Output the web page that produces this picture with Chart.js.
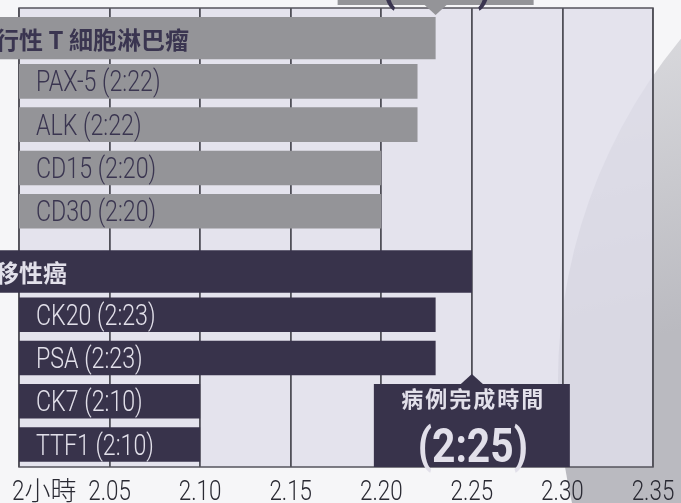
<!DOCTYPE html>
<html>
<head>
<meta charset="utf-8">
<script src="https://cdn.jsdelivr.net/npm/chart.js@4.4.1/dist/chart.umd.min.js"></script>
<style>
  html, body { margin: 0; padding: 0; background: #f6f6f8; }
  #wrap { width: 681px; height: 503px; }
</style>
</head>
<body>
<div id="wrap"><canvas id="timeChart"></canvas></div>
<script>
// data (times are 2.xx = 2h xx min)
const groupNames = ['行性 T 細胞淋巴瘤', '移性癌'];
const groupTimes = [2.23, 2.25];
const markerNames = [
  ['PAX-5', 'ALK', 'CD15', 'CD30'],
  ['CK20', 'PSA', 'CK7', 'TTF1']
];
const markerTimes = [
  [2.22, 2.22, 2.20, 2.20],
  [2.23, 2.23, 2.10, 2.10]
];
const tickLabels = ['2小時', '2.05', '2.10', '2.15', '2.20', '2.25', '2.30', '2.35'];
const calloutTitle = '病例完成時間';

// colours
const BAR_COLORS = ['#949498', '#38334b'];
const TEXT_COLORS = ['#3a3550', '#e2e0ea'];
const CJK = '"Noto Sans CJK TC", "Noto Sans CJK SC", sans-serif';

const fmtTime = t => t.toFixed(2).replace('.', ':');

// draws text, squeezing latin runs horizontally (condensed look), cjk runs kept normal
function drawRuns(ctx, text, x, y, align, latinFont, cjkFont, squeeze) {
  const re = /[\u2e80-\u9fff\uff00-\uffef]+|[^\u2e80-\u9fff\uff00-\uffef]+/g;
  const parts = (text.match(re) || []).map(r => {
    const isCjk = /[\u2e80-\u9fff]/.test(r);
    ctx.font = isCjk ? cjkFont : latinFont;
    const sx = isCjk ? 1 : squeeze;
    return { r, isCjk, sx, w: ctx.measureText(r).width * sx };
  });
  const total = parts.reduce((s, p) => s + p.w, 0);
  let cx = align === 'center' ? x - total / 2 : align === 'right' ? x - total : x;
  ctx.textAlign = 'left';
  parts.forEach(p => {
    ctx.font = p.isCjk ? cjkFont : latinFont;
    ctx.save();
    ctx.translate(cx, y);
    ctx.scale(p.sx, 1);
    ctx.fillText(p.r, 0, 0);
    ctx.restore();
    cx += p.w;
  });
}

const backgroundPlugin = {
  id: 'bg',
  beforeDraw(chart) {
    const { ctx, chartArea: a, width, height } = chart;
    ctx.save();
    ctx.fillStyle = '#f6f6f8';
    ctx.fillRect(0, 0, width, height);
    // big grey disc on the right
    const g = ctx.createLinearGradient(610, 40, 681, 330);
    g.addColorStop(0, '#d9d9dd');
    g.addColorStop(1, '#babac0');
    ctx.fillStyle = g;
    ctx.beginPath();
    ctx.arc(1096, 381, 538, 0, Math.PI * 2);
    ctx.fill();
    // plot area
    ctx.fillStyle = 'rgba(223,222,234,0.82)';
    ctx.fillRect(a.left, a.top, a.right - a.left, a.bottom - a.top);
    ctx.restore();
  },
  beforeDatasetsDraw(chart) {
    const { ctx, chartArea: a } = chart;
    ctx.save();
    ctx.strokeStyle = '#55545c';
    ctx.lineWidth = 1.5;
    ctx.strokeRect(a.left, a.top, a.right - a.left, a.bottom - a.top);
    ctx.restore();
  }
};

const labelPlugin = {
  id: 'labels',
  afterDatasetsDraw(chart) {
    const { ctx, chartArea: a } = chart;
    const xs = chart.scales.x;
    ctx.save();

    // header labels (cut at the left edge)
    const head = chart.getDatasetMeta(0).data;
    head.forEach((el, i) => {
      ctx.fillStyle = TEXT_COLORS[i];
      ctx.textBaseline = 'middle';
      const f = 'bold 24px ' + CJK;
      drawRuns(ctx, groupNames[i], a.left - 24, el.y + 1.5, 'left', f, f, 1);
    });

    // marker labels
    for (let k = 0; k < 4; k++) {
      chart.getDatasetMeta(k + 1).data.forEach((el, i) => {
        ctx.fillStyle = TEXT_COLORS[i];
        ctx.textBaseline = 'alphabetic';
        const txt = markerNames[i][k] + ' (' + fmtTime(markerTimes[i][k]) + ')';
        drawRuns(ctx, txt, a.left + 17, el.y + 10, 'left', '300 29px Roboto', '300 26px ' + CJK, 0.8);
      });
    }

    // completion time callouts
    const boxW = 196, boxH = 83, tip = 10;
    groupTimes.forEach((t, i) => {
      const x = xs.getPixelForValue(t);
      const above = i === 0;
      const bottom = above ? a.top - 3 : a.bottom;
      const top = bottom - boxH;
      ctx.fillStyle = BAR_COLORS[i];
      ctx.fillRect(x - boxW / 2, top, boxW, boxH);
      ctx.beginPath();
      if (above) {
        ctx.moveTo(x - 11, bottom); ctx.lineTo(x + 11, bottom); ctx.lineTo(x, bottom + tip);
      } else {
        ctx.moveTo(x - 11, top); ctx.lineTo(x + 11, top); ctx.lineTo(x, top - tip);
      }
      ctx.closePath();
      ctx.fill();

      ctx.fillStyle = TEXT_COLORS[i];
      ctx.textBaseline = 'middle';
      ctx.letterSpacing = '2px';
      const tf = 'bold 22px ' + CJK;
      drawRuns(ctx, calloutTitle, x + 1.5, top + 15, 'center', tf, tf, 1);
      ctx.letterSpacing = '0px';
      ctx.textBaseline = 'alphabetic';
      drawRuns(ctx, '(' + fmtTime(t) + ')', x + 1, bottom - 5.5, 'center', 'bold 48px Roboto', tf, 0.85);
    });
    ctx.restore();
  },
  afterDraw(chart) {
    const { ctx, chartArea: a } = chart;
    const xs = chart.scales.x;
    ctx.save();
    ctx.fillStyle = '#2a2a33';
    ctx.textBaseline = 'alphabetic';
    xs.ticks.forEach((tk, i) => {
      const x = xs.getPixelForTick(i);
      const first = i === 0;
      drawRuns(ctx, String(tk.label), first ? x - 7 : x, a.bottom + 33, first ? 'left' : 'center',
        '300 28px Roboto', '300 26px ' + CJK, 0.8);
    });
    ctx.restore();
  }
};

const datasets = [{
  label: 'group',
  data: groupTimes.map(t => [1.98, t]),
  backgroundColor: BAR_COLORS,
  categoryPercentage: 0.927,
  barPercentage: 0.98,
  clip: false
}];
for (let k = 0; k < 4; k++) {
  datasets.push({
    label: 'marker ' + (k + 1),
    data: markerTimes.map(g => g[k]),
    backgroundColor: BAR_COLORS,
    categoryPercentage: 0.927,
    barPercentage: 0.8
  });
}

new Chart(document.getElementById('timeChart'), {
  type: 'bar',
  data: {
    labels: groupNames.map((_, i) => i),
    datasets: datasets
  },
  options: {
    indexAxis: 'y',
    responsive: true,
    maintainAspectRatio: false,
    animation: false,
    layout: { padding: { left: 19, right: 28, top: 8, bottom: 36 } },
    scales: {
      x: {
        type: 'linear',
        min: 2.0,
        max: 2.35,
        ticks: { stepSize: 0.05, display: false, callback: (v, i) => tickLabels[i] },
        grid: { color: '#505058', lineWidth: 1.8, drawTicks: false },
        border: { display: false }
      },
      y: {
        type: 'linear',
        reverse: true,
        offset: false,
        bounds: 'data',
        min: -0.5,
        max: 1.467,
        display: false,
        ticks: { stepSize: 1, includeBounds: false }
      }
    },
    plugins: {
      legend: { display: false },
      tooltip: { enabled: false }
    }
  },
  plugins: [backgroundPlugin, labelPlugin]
});
</script>
</body>
</html>
